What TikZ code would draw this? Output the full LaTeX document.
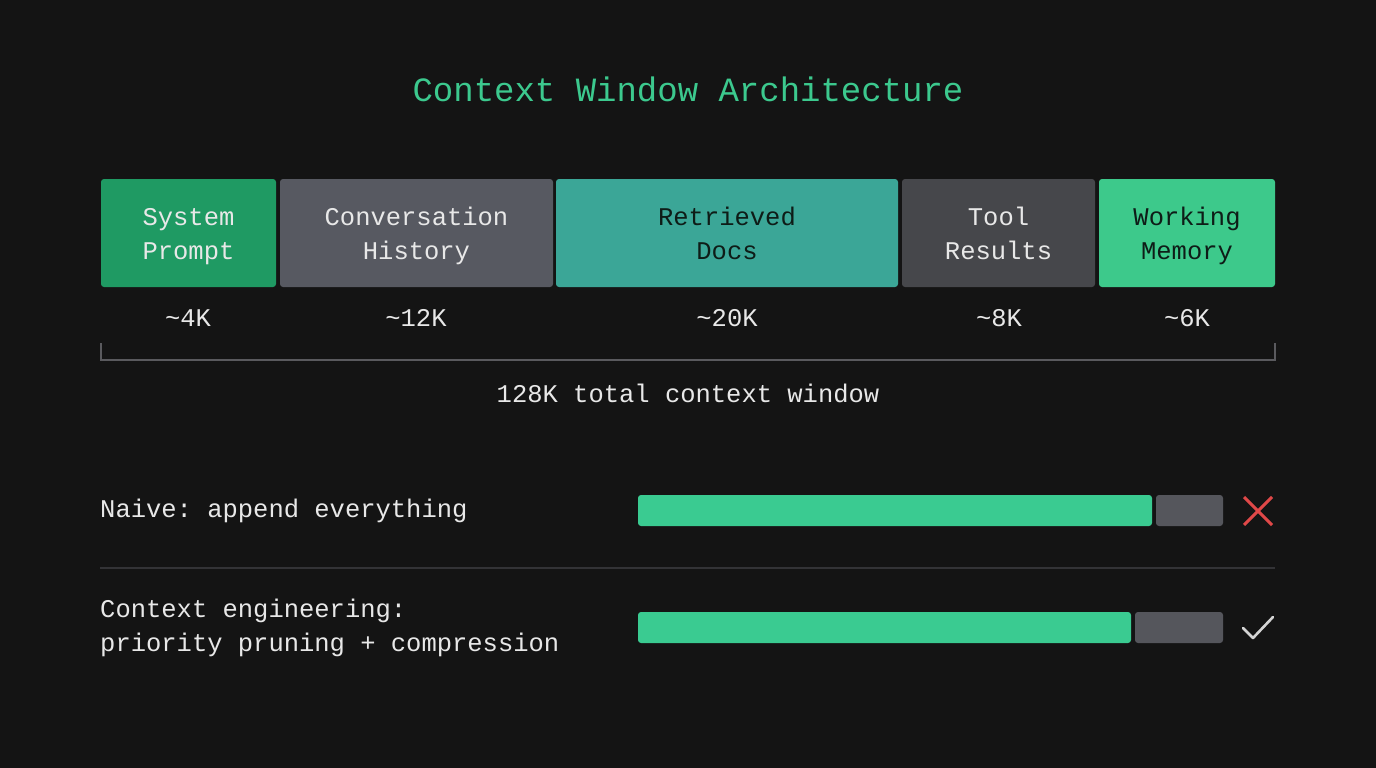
\documentclass[tikz,border=0pt]{standalone}
\usepackage{fontspec}
\setmonofont{Liberation Mono}
\definecolor{bg}{HTML}{141414}
\definecolor{sysgreen}{HTML}{1F9A63}
\definecolor{convgray}{HTML}{575961}
\definecolor{docteal}{HTML}{3BA697}
\definecolor{toolgray}{HTML}{46474B}
\definecolor{workgreen}{HTML}{3DC98B}
\definecolor{bargreen}{HTML}{3ACB91}
\definecolor{bargray}{HTML}{55565C}
\definecolor{titlegreen}{HTML}{3CC98E}
\definecolor{txt}{HTML}{E8E8E8}
\definecolor{darktxt}{HTML}{0E1C17}
\definecolor{rule}{HTML}{5A5A5E}
\definecolor{sep}{HTML}{333336}
\definecolor{xred}{HTML}{E04848}
\definecolor{checkgray}{HTML}{D4D4D4}
\tikzset{
  seg/.style={rectangle, rounded corners=3pt, minimum height=108pt, inner sep=0pt, align=center,
     font=\ttfamily\fontsize{25.5}{34}\selectfont},
  segtxt/.style={inner sep=0pt, align=center, font=\ttfamily\fontsize{25.5}{34}\selectfont},
  lbl/.style={font=\ttfamily\fontsize{25.5}{34}\selectfont, text=txt, inner sep=0pt},
  barpart/.style={rectangle, rounded corners=3pt, minimum height=31pt, inner sep=0pt},
}
\begin{document}
\begin{tikzpicture}[x=1pt,y=-1pt]
\fill[bg] (0,0) rectangle (1376,768);
\useasboundingbox (0,0) rectangle (1376,768);

\node[font=\ttfamily\fontsize{34}{40}\selectfont, text=titlegreen] (title) at (688,89) {Context Window Architecture};

% segments
\node[seg, fill=sysgreen, minimum width=175pt] (sys) at (188.5,233) {};
\node[seg, fill=convgray, minimum width=273pt] (conv) at (416.5,233) {};
\node[seg, fill=docteal, minimum width=342pt] (docs) at (727,233) {};
\node[seg, fill=toolgray, minimum width=193pt] (tool) at (998.5,233) {};
\node[seg, fill=workgreen, minimum width=176pt] (work) at (1187,233) {};
\node[segtxt, text=txt] (syst) at (188.5,236) {\strut System\\\strut Prompt};
\node[segtxt, text=txt] (convt) at (416.5,236) {\strut Conversation\\\strut History};
\node[segtxt, text=darktxt] (docst) at (727,236) {\strut Retrieved\\\strut Docs};
\node[segtxt, text=txt] (toolt) at (998.5,236) {\strut Tool\\\strut Results};
\node[segtxt, text=darktxt] (workt) at (1187,236) {\strut Working\\\strut Memory};

% sizes
\node[lbl] (s1) at (188,318) {\textasciitilde4K};
\node[lbl] (s2) at (416,318) {\textasciitilde12K};
\node[lbl] (s3) at (727,318) {\textasciitilde20K};
\node[lbl] (s4) at (999,318) {\textasciitilde8K};
\node[lbl] (s5) at (1187,318) {\textasciitilde6K};

% bracket
\coordinate (bl) at (101,343);
\coordinate (br) at (1275,343);
\draw[rule, line width=1.3pt] (bl) -- ++(0,17) -| (br);
\node[lbl] (total) at (688,393) {128K total context window};

% naive row
\node[lbl, anchor=west] (naive) at (100,511) {Naive: append everything};
\node[barpart, fill=bargreen, minimum width=514pt] (ng) at (895,510.5) {};
\node[barpart, fill=bargray, minimum width=67pt] (nr) at (1189.5,510.5) {};
\coordinate (x1) at (1244,497);
\coordinate (x2) at (1272,525);
\coordinate (x3) at (1244,525);
\coordinate (x4) at (1272,497);
\draw[xred, line width=3pt] (x1) -- (x2) (x3) -- (x4);

% separator
\coordinate (sl) at (100,568);
\coordinate (sr) at (1275,568);
\draw[sep, line width=1.3pt] (sl) -- (sr);

% engineered row
\node[lbl, anchor=west, align=left] (eng) at (100,628) {Context engineering:\\priority pruning + compression};
\node[barpart, fill=bargreen, minimum width=493pt] (eg) at (884.5,627.5) {};
\node[barpart, fill=bargray, minimum width=88pt] (er) at (1179,627.5) {};
\coordinate (c1) at (1243,628);
\coordinate (c2) at (1253,638);
\coordinate (c3) at (1273,617);
\draw[checkgray, line width=2.6pt, line cap=round, line join=round] (c1) -- (c2) -- (c3);
\end{tikzpicture}
\end{document}
